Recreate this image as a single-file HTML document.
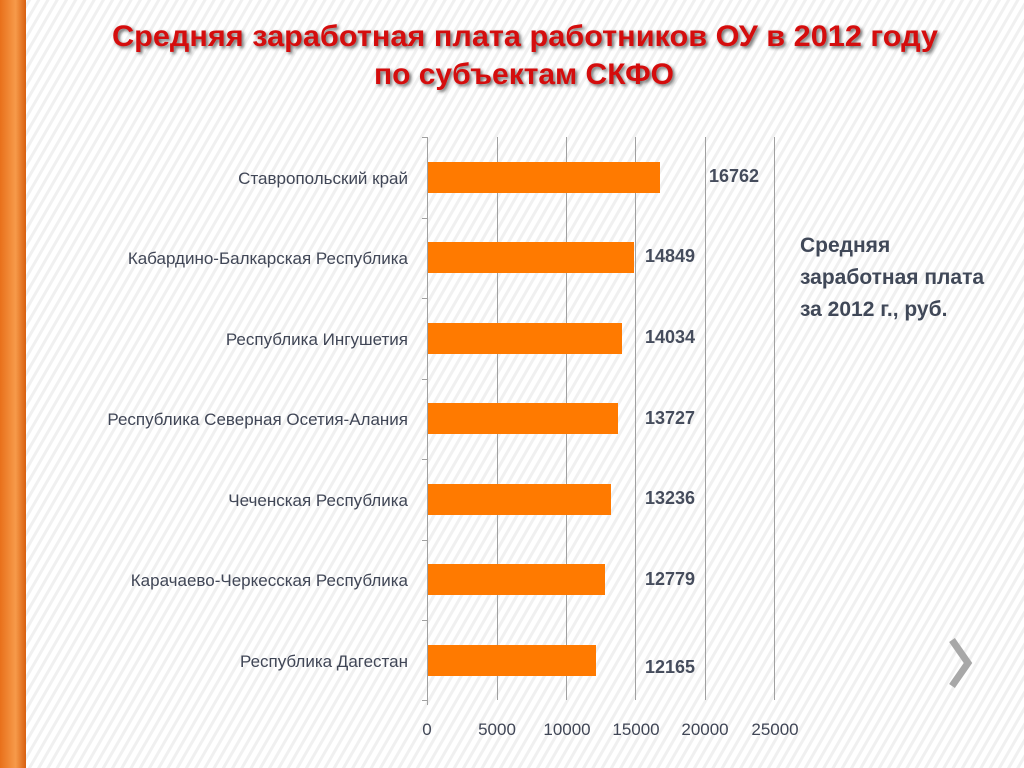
<!DOCTYPE html>
<html><head><meta charset="utf-8"><style>
body{margin:0;width:1024px;height:768px;overflow:hidden;background:#fff;}
svg{display:block}
</style></head><body>
<svg width="1024" height="768" xmlns="http://www.w3.org/2000/svg" font-family="Liberation Sans, sans-serif">
<defs>
<pattern id="h" width="8" height="8" patternUnits="userSpaceOnUse" patternTransform="rotate(30)">
<rect width="8" height="8" fill="#fff"/><rect width="3" height="8" fill="#f0f0f0"/>
</pattern>
<linearGradient id="og" x1="0" x2="1" y1="0" y2="0">
<stop offset="0" stop-color="#e8701a"/><stop offset="0.6" stop-color="#f79a4a"/><stop offset="1" stop-color="#d86010"/>
</linearGradient>
<filter id="sh"><feDropShadow dx="2" dy="2" stdDeviation="1.5" flood-color="#333" flood-opacity="0.7"/></filter>
</defs>
<rect width="1024" height="768" fill="url(#h)"/>
<rect x="0" y="0" width="26" height="768" fill="url(#og)"/>
<g font-weight="bold" fill="#d40c0c" font-size="30" text-anchor="middle" filter="url(#sh)">
<text x="525" y="46" textLength="826" lengthAdjust="spacingAndGlyphs">Средняя заработная плата работников ОУ в 2012 году</text>
<text x="524" y="84" textLength="300" lengthAdjust="spacingAndGlyphs">по субъектам СКФО</text>
</g>
<g stroke="#a0a0a0" stroke-width="1">
<line x1="497.5" y1="137" x2="497.5" y2="700"/>
<line x1="566.5" y1="137" x2="566.5" y2="700"/>
<line x1="635.5" y1="137" x2="635.5" y2="700"/>
<line x1="705.5" y1="137" x2="705.5" y2="700"/>
<line x1="774.5" y1="137" x2="774.5" y2="700"/>
<line x1="427.5" y1="137" x2="427.5" y2="705"/>
<line x1="422" y1="137.5" x2="427" y2="137.5"/><line x1="422" y1="218.5" x2="427" y2="218.5"/>
<line x1="422" y1="298.5" x2="427" y2="298.5"/><line x1="422" y1="379.5" x2="427" y2="379.5"/>
<line x1="422" y1="459.5" x2="427" y2="459.5"/><line x1="422" y1="540.5" x2="427" y2="540.5"/>
<line x1="422" y1="620.5" x2="427" y2="620.5"/><line x1="422" y1="700.5" x2="427" y2="700.5"/>
</g>
<g fill="#ff7a00">
<rect x="428" y="162" width="232" height="31"/>
<rect x="428" y="242" width="206" height="31"/>
<rect x="428" y="323" width="194" height="31"/>
<rect x="428" y="403" width="190" height="31"/>
<rect x="428" y="484" width="183" height="31"/>
<rect x="428" y="564" width="177" height="31"/>
<rect x="428" y="645" width="168" height="31"/>
</g>
<g font-size="17" fill="#404656" text-anchor="end">
<text x="408" y="184">Ставропольский край</text>
<text x="408" y="264">Кабардино-Балкарская Республика</text>
<text x="408" y="345">Республика Ингушетия</text>
<text x="408" y="425">Республика Северная Осетия-Алания</text>
<text x="408" y="506">Чеченская Республика</text>
<text x="408" y="586">Карачаево-Черкесская Республика</text>
<text x="408" y="667">Республика Дагестан</text>
</g>
<g font-size="18" font-weight="bold" fill="#454c5c">
<text x="709" y="182">16762</text>
<text x="645" y="262">14849</text>
<text x="645" y="343">14034</text>
<text x="645" y="424">13727</text>
<text x="645" y="504">13236</text>
<text x="645" y="585">12779</text>
<text x="645" y="673">12165</text>
</g>
<g font-size="17" fill="#404656" text-anchor="middle">
<text x="427" y="735">0</text><text x="497" y="735">5000</text><text x="567" y="735">10000</text>
<text x="636" y="735">15000</text><text x="705" y="735">20000</text><text x="775" y="735">25000</text>
</g>
<g font-size="21" font-weight="bold" fill="#404858">
<text x="800" y="252">Средняя</text>
<text x="800" y="284">заработная плата</text>
<text x="800" y="316">за 2012 г., руб.</text>
</g>
<polyline points="952,640 968,663 952,686" fill="none" stroke="#a8a8a8" stroke-width="7"/>
</svg>
</body></html>
